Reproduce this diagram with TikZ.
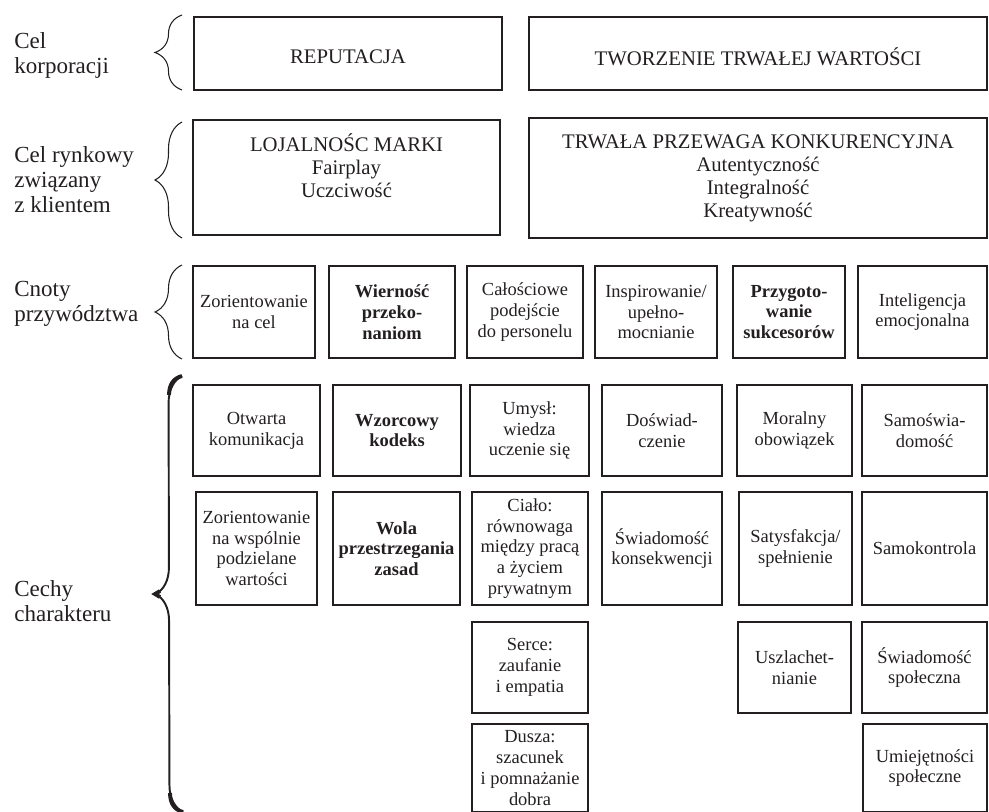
\documentclass[tikz,border=0pt]{standalone}
\usepackage{fontspec}
\setmainfont{Liberation Serif}
\usepackage{xcolor}
\usepackage{tikz}
\usetikzlibrary{decorations.pathreplacing}

\definecolor{ink}{HTML}{231F20}

\begin{document}
\begin{tikzpicture}[
  x=0.02cm, y=-0.02cm,
  box/.style={rectangle, draw=ink, line width=0.7pt, align=center, inner sep=1pt, text=ink, font=\fontsize{10.5}{11.8}\selectfont},
  goalbox/.style={rectangle, draw=ink, line width=0.7pt, align=center, inner sep=2pt, text=ink, font=\fontsize{11.8}{13.1}\selectfont},
  side/.style={anchor=west, align=left, inner sep=0pt, text=ink, font=\fontsize{13.1}{14.2}\selectfont},
  brc/.style={decorate, decoration={brace, amplitude=0.54cm}, draw=ink, line width=0.6pt},
  bigbrc/.style={decorate, decoration={brace, amplitude=0.54cm}, draw=ink, line width=1.1pt},
  tip/.style={draw=ink, line width=2.2pt}
]
\useasboundingbox (0,0) rectangle (989,811);

\node[side] (corp) at (14,55) {Cel\\korporacji};
\node[side] (market) at (14,180) {Cel rynkowy\\związany\\z klientem};
\node[side] (virtue) at (14,304) {Cnoty\\przywództwa};
\node[side] (trait) at (14,601) {Cechy\\charakteru};

\draw[brc] (182,90) -- (182,15);
\draw[brc] (182,238) -- (182,122);
\draw[brc] (182,359) -- (182,265);
\draw[bigbrc] (183,812) -- (182,376);
\draw[tip] (169,395) .. controls (169,384) and (174,378) .. (182,376);
\draw[tip] (170,793) .. controls (170,804) and (175,810) .. (183,812);
\draw[tip] (160,591) -- (155,594) -- (160,597);

\node[goalbox, minimum width=6.16cm, minimum height=1.46cm] (rep) at (348,53.5) {\raisebox{-0.07cm}[\height][\depth]{REPUTACJA}};
\node[goalbox, minimum width=9.16cm, minimum height=1.46cm] (value) at (758,53.5) {\raisebox{-0.07cm}[\height][\depth]{TWORZENIE TRWAŁEJ WARTOŚCI}};

\node[goalbox, minimum width=6.14cm, minimum height=2.30cm] (loyal) at (346.5,177.5) {LOJALNOŚC MARKI\\Fairplay\\Uczciwość\\\mbox{}};
\node[goalbox, minimum width=9.16cm, minimum height=2.40cm] (edge) at (758,178) {TRWAŁA PRZEWAGA KONKURENCYJNA\\Autentyczność\\Integralność\\Kreatywność};

\node[box, minimum width=2.44cm, minimum height=1.84cm] (aim) at (254,312) {Zorientowanie\\na cel};
\node[box, minimum width=2.52cm, minimum height=1.84cm] (faith) at (392,312) {\bfseries Wierność\\\bfseries przeko-\\\bfseries naniom};
\node[box, minimum width=2.32cm, minimum height=1.84cm] (whole) at (525,312) {Całościowe\\podejście\\do personelu};
\node[box, minimum width=2.44cm, minimum height=1.84cm] (inspire) at (656,312) {Inspirowanie/\\upełno-\\mocnianie};
\node[box, minimum width=2.24cm, minimum height=1.84cm] (succ) at (789,312) {\bfseries Przygoto-\\\bfseries wanie\\\bfseries sukcesorów};
\node[box, minimum width=2.58cm, minimum height=1.84cm] (emo) at (922.5,312) {Inteligencja\\emocjonalna};

\node[box, minimum width=2.54cm, minimum height=1.82cm] (open) at (256.5,430.5) {Otwarta\\komunikacja};
\node[box, minimum width=2.56cm, minimum height=1.82cm] (code) at (397,430.5) {\bfseries Wzorcowy\\\bfseries kodeks};
\node[box, minimum width=2.38cm, minimum height=1.82cm] (mind) at (529.5,430.5) {Umysł:\\wiedza\\uczenie się};
\node[box, minimum width=2.40cm, minimum height=1.82cm] (exper) at (662,430.5) {Doświad-\\czenie};
\node[box, minimum width=2.30cm, minimum height=1.82cm] (duty) at (794.5,430.5) {Moralny\\obowiązek};
\node[box, minimum width=2.50cm, minimum height=1.82cm] (aware) at (924.5,430.5) {Samoświa-\\domość};

\node[box, minimum width=2.42cm, minimum height=2.26cm] (shared) at (256.5,548.5) {Zorientowanie\\na wspólnie\\podzielane\\wartości};
\node[box, minimum width=2.54cm, minimum height=2.26cm] (will) at (396.5,548.5) {\bfseries Wola\\\bfseries przestrzegania\\\bfseries zasad};
\node[box, minimum width=2.32cm, minimum height=2.26cm] (body) at (530,548.5) {Ciało:\\równowaga\\między pracą\\a życiem\\prywatnym};
\node[box, minimum width=2.40cm, minimum height=2.26cm] (conseq) at (662,548.5) {Świadomość\\konsekwencji};
\node[box, minimum width=2.26cm, minimum height=2.26cm] (satis) at (795.5,548.5) {Satysfakcja/\\spełnienie};
\node[box, minimum width=2.50cm, minimum height=2.26cm] (control) at (924.5,548.5) {Samokontrola};

\node[box, minimum width=2.32cm, minimum height=1.82cm] (heart) at (530,667.5) {Serce:\\zaufanie\\i empatia};
\node[box, minimum width=2.26cm, minimum height=1.82cm] (noble) at (794.5,667.5) {Uszlachet-\\nianie};
\node[box, minimum width=2.50cm, minimum height=1.82cm] (social) at (924.5,667.5) {Świadomość\\społeczna};

\node[box, minimum width=2.32cm, minimum height=1.76cm] (soul) at (530,768) {Dusza:\\szacunek\\i pomnażanie\\dobra};
\node[box, minimum width=2.48cm, minimum height=1.76cm] (skills) at (925,768) {Umiejętności\\społeczne};

\end{tikzpicture}
\end{document}
